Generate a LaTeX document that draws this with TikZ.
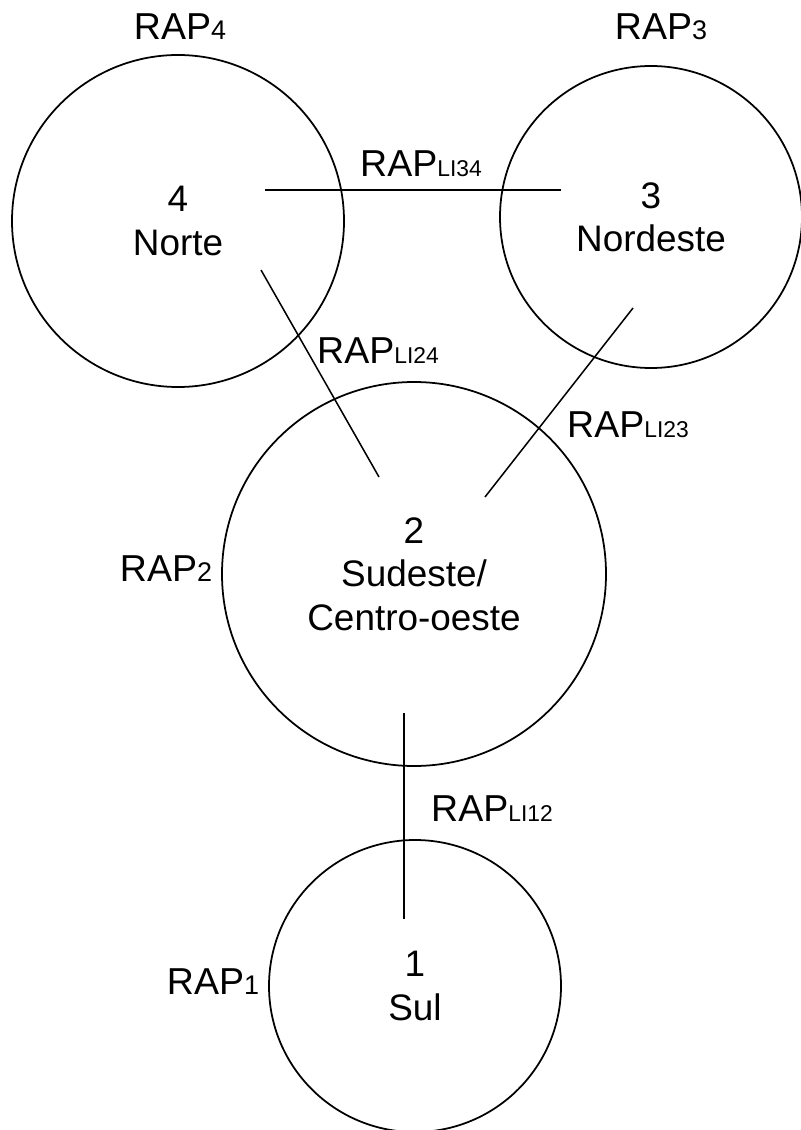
\documentclass[tikz,border=0pt]{standalone}
\usepackage{fontspec}
\setmainfont{Liberation Sans}
\newcommand{\raplabel}[1]{RAP{\fontsize{23}{23}\selectfont #1}}
\newcommand{\raplink}[1]{RAP{\fontsize{19.5}{19.5}\selectfont LI#1}}

\begin{document}
\begin{tikzpicture}[x=0.03cm,y=-0.03cm,
 region/.style ={circle,draw=black,line width=1.5pt,inner sep=0pt,align=center,font=\fontsize{31.5}{37}\selectfont},
 link/.style ={-,draw=black,line width=1.3pt},
 tag/.style ={inner sep=0pt,font=\fontsize{32}{36}\selectfont}
 ]
\useasboundingbox (0,0) rectangle (800,1130);
%draw regions
\node[region,minimum size=9.96cm] (n4) at (178,221) {4\\Norte};
\node[region,minimum size=9.06cm] (n3) at (651,217) {3\\Nordeste};
\node[region,minimum size=11.52cm] (n2) at (414,574) {2\\Sudeste/\\Centro-oeste};
\node[region,minimum size=8.76cm] (n1) at (415,986) {1\\Sul};
%region labels
\node[tag] (r4) at (180,27) {\raplabel{4}};
\node[tag] (r3) at (661,27) {\raplabel{3}};
\node[tag] (r2) at (166,569) {\raplabel{2}};
\node[tag] (r1) at (213,982) {\raplabel{1}};
%line ends
\coordinate (e34a) at (265,190);
\coordinate (e34b) at (561,190);
\coordinate (e24a) at (261,270);
\coordinate (e24b) at (379,477);
\coordinate (e23a) at (633,308);
\coordinate (e23b) at (485,497);
\coordinate (e12a) at (404,713);
\coordinate (e12b) at (404,919);
%draw interconnections
\draw[link] (e34a) -- (e34b);
\draw[link] (e24a) -- (e24b);
\draw[link] (e23a) -- (e23b);
\draw[link] (e12a) -- (e12b);
%interconnection labels
\node[tag] (l34) at (421,164) {\raplink{34}};
\node[tag] (l24) at (378,351) {\raplink{24}};
\node[tag] (l23) at (628,425) {\raplink{23}};
\node[tag] (l12) at (492,809) {\raplink{12}};
\end{tikzpicture}
\end{document}
